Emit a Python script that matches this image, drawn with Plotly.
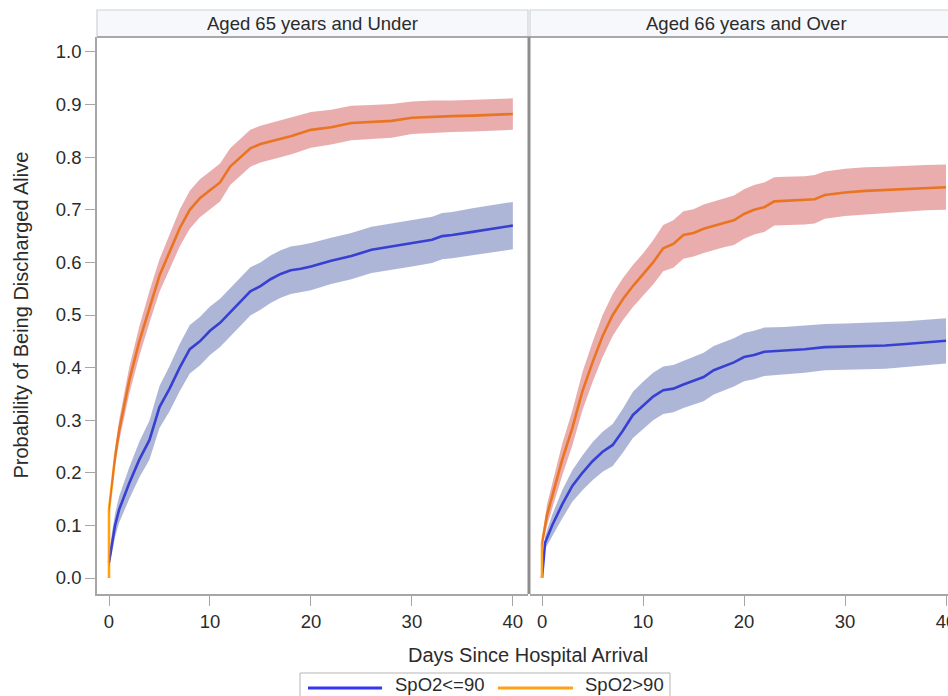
import plotly.graph_objects as go

# ---------------- data ----------------
panel_titles = ["Aged 65 years and Under", "Aged 66 years and Over"]
series_names = ["SpO2<=90", "SpO2>90"]
x_ticks = [0, 10, 20, 30, 40]
y_ticks = [0.0, 0.1, 0.2, 0.3, 0.4, 0.5, 0.6, 0.7, 0.8, 0.9, 1.0]

# Aged 65 and under, SpO2<=90
u65_low_days = [0, 0.3, 0.6, 1, 2, 3, 4, 5, 6, 7, 8, 9, 10, 11, 12, 13, 14, 15, 16, 17, 18, 19, 20, 22, 24, 26, 28, 30, 32, 33, 34, 36, 38, 40]
u65_low_prob = [0.03, 0.07, 0.10, 0.13, 0.18, 0.225, 0.262, 0.325, 0.36, 0.40, 0.435, 0.45, 0.47, 0.485, 0.505, 0.525, 0.545, 0.555, 0.568, 0.578, 0.585, 0.588, 0.592, 0.603, 0.612, 0.624, 0.630, 0.636, 0.643, 0.650, 0.652, 0.658, 0.664, 0.670]
u65_low_upper = [0.04, 0.088, 0.122, 0.155, 0.21, 0.259, 0.299, 0.365, 0.403, 0.445, 0.481, 0.496, 0.516, 0.531, 0.551, 0.571, 0.591, 0.60, 0.613, 0.623, 0.63, 0.633, 0.637, 0.647, 0.656, 0.668, 0.674, 0.68, 0.687, 0.694, 0.696, 0.703, 0.709, 0.715]
u65_low_lower = [0.02, 0.052, 0.078, 0.105, 0.15, 0.191, 0.225, 0.285, 0.317, 0.355, 0.389, 0.404, 0.424, 0.439, 0.459, 0.479, 0.499, 0.51, 0.523, 0.533, 0.54, 0.543, 0.547, 0.559, 0.568, 0.58, 0.586, 0.592, 0.599, 0.606, 0.608, 0.613, 0.619, 0.625]

# Aged 65 and under, SpO2>90
u65_high_days = [0, 0, 0.3, 0.6, 1, 1.5, 2, 3, 4, 5, 6, 7, 8, 9, 10, 11, 12, 13, 14, 15, 16, 18, 20, 22, 24, 26, 28, 30, 32, 34, 36, 38, 40]
u65_high_prob = [0.0, 0.13, 0.18, 0.23, 0.28, 0.33, 0.375, 0.45, 0.515, 0.575, 0.62, 0.665, 0.70, 0.722, 0.737, 0.752, 0.782, 0.80, 0.817, 0.825, 0.83, 0.84, 0.852, 0.857, 0.865, 0.867, 0.869, 0.875, 0.877, 0.878, 0.879, 0.880, 0.882]
u65_high_upper = [0.0, 0.14, 0.195, 0.247, 0.30, 0.352, 0.40, 0.478, 0.545, 0.606, 0.653, 0.70, 0.736, 0.758, 0.773, 0.788, 0.817, 0.835, 0.852, 0.86, 0.865, 0.875, 0.886, 0.89, 0.898, 0.899, 0.901, 0.906, 0.908, 0.908, 0.909, 0.91, 0.912]
u65_high_lower = [0.0, 0.12, 0.165, 0.213, 0.26, 0.308, 0.35, 0.422, 0.485, 0.544, 0.587, 0.63, 0.664, 0.686, 0.701, 0.716, 0.747, 0.765, 0.782, 0.79, 0.795, 0.805, 0.818, 0.824, 0.832, 0.835, 0.837, 0.844, 0.846, 0.848, 0.849, 0.85, 0.852]

# Aged 66 and over, SpO2<=90
o66_low_days = [0, 0.3, 1, 2, 3, 4, 5, 6, 7, 8, 9, 10, 11, 12, 13, 14, 15, 16, 17, 18, 19, 20, 21, 22, 24, 26, 28, 30, 32, 34, 36, 38, 40]
o66_low_prob = [0.0, 0.067, 0.10, 0.14, 0.175, 0.20, 0.222, 0.24, 0.253, 0.28, 0.31, 0.328, 0.345, 0.357, 0.36, 0.368, 0.375, 0.382, 0.395, 0.403, 0.41, 0.42, 0.424, 0.43, 0.432, 0.435, 0.439, 0.440, 0.441, 0.442, 0.445, 0.448, 0.451]
o66_low_upper = [0.0, 0.079, 0.12, 0.167, 0.205, 0.233, 0.258, 0.278, 0.293, 0.322, 0.354, 0.373, 0.39, 0.402, 0.405, 0.413, 0.42, 0.428, 0.441, 0.449, 0.456, 0.466, 0.47, 0.476, 0.477, 0.48, 0.483, 0.484, 0.485, 0.486, 0.488, 0.491, 0.494]
o66_low_lower = [0.0, 0.055, 0.08, 0.113, 0.145, 0.167, 0.186, 0.202, 0.213, 0.238, 0.266, 0.283, 0.30, 0.312, 0.315, 0.323, 0.33, 0.336, 0.349, 0.357, 0.364, 0.374, 0.378, 0.384, 0.387, 0.39, 0.395, 0.396, 0.397, 0.398, 0.402, 0.405, 0.408]

# Aged 66 and over, SpO2>90
o66_high_days = [0, 0, 0.5, 1, 2, 3, 4, 5, 6, 7, 8, 9, 10, 11, 12, 13, 14, 15, 16, 17, 18, 19, 20, 21, 22, 23, 24, 26, 27, 28, 30, 32, 34, 36, 38, 40]
o66_high_prob = [0.0, 0.067, 0.12, 0.155, 0.225, 0.285, 0.355, 0.41, 0.46, 0.50, 0.53, 0.555, 0.577, 0.60, 0.627, 0.635, 0.652, 0.656, 0.664, 0.670, 0.675, 0.680, 0.692, 0.70, 0.705, 0.716, 0.717, 0.718, 0.720, 0.728, 0.733, 0.736, 0.738, 0.740, 0.742, 0.743]
o66_high_upper = [0.0, 0.077, 0.14, 0.18, 0.255, 0.318, 0.391, 0.448, 0.50, 0.54, 0.57, 0.595, 0.617, 0.642, 0.671, 0.68, 0.697, 0.701, 0.71, 0.716, 0.721, 0.727, 0.739, 0.747, 0.752, 0.762, 0.763, 0.764, 0.766, 0.773, 0.778, 0.781, 0.782, 0.784, 0.785, 0.786]
o66_high_lower = [0.0, 0.057, 0.10, 0.13, 0.195, 0.252, 0.319, 0.372, 0.42, 0.46, 0.49, 0.515, 0.537, 0.558, 0.583, 0.59, 0.607, 0.611, 0.618, 0.624, 0.629, 0.633, 0.645, 0.653, 0.658, 0.67, 0.671, 0.672, 0.674, 0.683, 0.688, 0.691, 0.694, 0.696, 0.699, 0.70]

# ---------------- styling ----------------
W, H = 948, 696
ML, MR, MT, MB = 97, 0, 37, 102
PW, PH = W - ML - MR, H - MT - MB
FONT = "Liberation Sans, Arial, sans-serif"
TXT = "#2b2b2b"
AXC = "#a6a6a6"
line_colors = ["#3535f5", "#ffa218"]
band_colors = ["rgba(60,80,160,0.42)", "rgba(200,50,50,0.40)"]

def px_x(p):
    return (p - ML) / PW

def px_y(p):
    return (H - MB - p) / PH

left_dom = [0, px_x(528)]
right_dom = [px_x(530), 1]

panels = [
    ("x", "y", [(u65_low_days, u65_low_prob, u65_low_lower, u65_low_upper),
                (u65_high_days, u65_high_prob, u65_high_lower, u65_high_upper)]),
    ("x2", "y2", [(o66_low_days, o66_low_prob, o66_low_lower, o66_low_upper),
                  (o66_high_days, o66_high_prob, o66_high_lower, o66_high_upper)]),
]

fig = go.Figure()
for pi, (xa, ya, series) in enumerate(panels):
    # lines first, bands drawn over them (as in the original)
    for si, (d, p, lo, hi) in enumerate(series):
        fig.add_trace(go.Scatter(
            x=d, y=p, mode="lines", xaxis=xa, yaxis=ya,
            line=dict(color=line_colors[si], width=2.6),
            name=series_names[si], legendgroup=series_names[si],
            showlegend=False))
    for si, (d, p, lo, hi) in enumerate(series):
        fig.add_trace(go.Scatter(
            x=list(d) + list(d)[::-1], y=list(hi) + list(lo)[::-1],
            mode="lines", fill="toself", fillcolor=band_colors[si],
            line=dict(width=0), xaxis=xa, yaxis=ya,
            hoverinfo="skip", showlegend=False))

xr_left = [-1.19, 41.5]
xr_right = [-1.19, -1.19 + (W - 530) / 10.1]
yr = [-0.0304, 1.0285]

axis_common = dict(showline=True, linecolor=AXC, linewidth=1.6, ticks="outside",
                   ticklen=10, tickwidth=1.4, tickcolor=AXC, showgrid=False,
                   zeroline=False, tickfont=dict(family=FONT, size=18.5, color=TXT))

fig.update_layout(
    width=W, height=H,
    margin=dict(l=ML, r=MR, t=MT, b=MB, autoexpand=False),
    paper_bgcolor="white", plot_bgcolor="white",
    font=dict(family=FONT, color=TXT),
    xaxis=dict(domain=left_dom, range=xr_left, tickvals=x_ticks, anchor="y", **axis_common),
    xaxis2=dict(domain=right_dom, range=xr_right, tickvals=x_ticks, anchor="y2",
                ticklabeloverflow="allow", **axis_common),
    yaxis=dict(domain=[0, 1], range=yr, tickvals=y_ticks, tickformat=".1f", anchor="x", **axis_common),
    yaxis2=dict(domain=[0, 1], range=yr, tickvals=y_ticks, showticklabels=False, showline=False,
                ticks="", showgrid=False, zeroline=False, anchor="x2", matches="y"),
    showlegend=False,
)

hdr_top = px_y(10)
shapes = []
for dom in (left_dom, right_dom):
    shapes.append(dict(type="rect", xref="paper", yref="paper", x0=dom[0], x1=dom[1] + (0.01 if dom is right_dom else 0),
                       y0=1, y1=hdr_top, fillcolor="#f6f8fc", line=dict(color="#cfd2d8", width=1.2), layer="above"))
# header bottom / frame top
shapes.append(dict(type="line", xref="paper", yref="paper", x0=0, x1=1, y0=1, y1=1,
                   line=dict(color="#a9a9a9", width=2)))
# divider between panels
shapes.append(dict(type="line", xref="paper", yref="paper", x0=px_x(529), x1=px_x(529), y0=0, y1=1,
                   line=dict(color="#8e8e8e", width=3)))

# legend box (bottom, partly cut off as in the reference)
shapes.append(dict(type="rect", xref="paper", yref="paper", x0=px_x(300), x1=px_x(670),
                   y0=px_y(673), y1=px_y(712), fillcolor="white", line=dict(color="#b5b5b5", width=1)))
legend_items = [(308, 382, 393), (498, 573, 583)]
annotations = []
for si, (lx0, lx1, tx) in enumerate(legend_items):
    shapes.append(dict(type="line", xref="paper", yref="paper", x0=px_x(lx0), x1=px_x(lx1),
                       y0=px_y(688), y1=px_y(688), line=dict(color=line_colors[si], width=3)))
    annotations.append(dict(text=series_names[si].replace("<", "&lt;"), xref="paper", yref="paper",
                            x=px_x(tx), y=px_y(684.5), xanchor="left", yanchor="middle", showarrow=False,
                            font=dict(family=FONT, size=18.5, color=TXT)))
fig.update_layout(shapes=shapes)

annotations += [
    dict(text=panel_titles[0], xref="paper", yref="paper", x=(left_dom[0] + left_dom[1]) / 2,
         y=(1 + hdr_top) / 2, xanchor="center", yanchor="middle", showarrow=False,
         font=dict(family=FONT, size=18.5, color=TXT)),
    dict(text=panel_titles[1], xref="paper", yref="paper", x=px_x(746),
         y=(1 + hdr_top) / 2, xanchor="center", yanchor="middle", showarrow=False,
         font=dict(family=FONT, size=18.5, color=TXT)),
    dict(text="Days Since Hospital Arrival", xref="paper", yref="paper", x=px_x(528), y=px_y(655),
         xanchor="center", yanchor="middle", showarrow=False,
         font=dict(family=FONT, size=20, color=TXT)),
    dict(text="Probability of Being Discharged Alive", xref="paper", yref="paper", x=px_x(20), y=0.5,
         xanchor="center", yanchor="middle", textangle=-90, showarrow=False,
         font=dict(family=FONT, size=20, color=TXT)),
]
fig.update_layout(annotations=annotations)

fig.write_html("out.html", config={"displayModeBar": False},
               post_script="document.body.style.margin='0';document.body.style.overflow='hidden';")
